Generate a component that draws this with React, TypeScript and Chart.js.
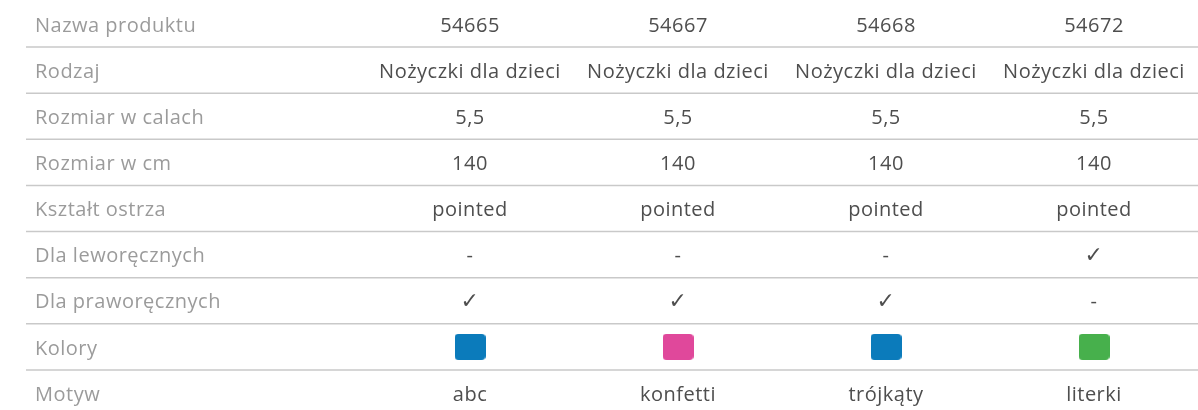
import React, { useEffect, useRef } from 'react';
import { Chart, registerables } from 'chart.js';

Chart.register(...registerables);

// ---- data ----
const rowLabels = [
  'Nazwa produktu',
  'Rodzaj',
  'Rozmiar w calach',
  'Rozmiar w cm',
  'Kształt ostrza',
  'Dla leworęcznych',
  'Dla praworęcznych',
  'Kolory',
  'Motyw',
];
const products = ['54665', '54667', '54668', '54672'];
const rodzaj = ['Nożyczki dla dzieci', 'Nożyczki dla dzieci', 'Nożyczki dla dzieci', 'Nożyczki dla dzieci'];
const rozmiarCale = ['5,5', '5,5', '5,5', '5,5'];
const rozmiarCm = ['140', '140', '140', '140'];
const ksztalt = ['pointed', 'pointed', 'pointed', 'pointed'];
const leworeczni = ['-', '-', '-', '✓'];
const praworeczni = ['✓', '✓', '✓', '-'];
const kolory = ['#0b7bbb', '#e0489b', '#0b7bbb', '#47b04c'];
const motyw = ['abc', 'konfetti', 'trójkąty', 'literki'];

const textRows: (string[] | null)[] = [
  products, rodzaj, rozmiarCale, rozmiarCm, ksztalt, leworeczni, praworeczni, null, motyw,
];

const FONT = '"Open Sans", "DejaVu Sans", sans-serif';

function swatch(color: string): HTMLCanvasElement {
  const c = document.createElement('canvas');
  c.width = 31;
  c.height = 26;
  const g = c.getContext('2d')!;
  g.fillStyle = color;
  g.beginPath();
  (g as any).roundRect(0, 0, 31, 26, 4);
  g.fill();
  return c;
}

const spacingPlugin = {
  id: 'letterSpacing',
  beforeDraw(chart: any) {
    (chart.ctx as any).letterSpacing = '0.5px';
  },
};

const tablePlugin = {
  id: 'tableCells',
  beforeDatasetsDraw(chart: any) {
    const { ctx, scales, chartArea } = chart;
    const x = scales.x;
    const y = scales.y;
    ctx.save();
    ctx.strokeStyle = '#c9c9c9';
    ctx.lineWidth = 1.5;
    for (let i = 0; i < rowLabels.length - 1; i++) {
      const yy = (y.getPixelForValue(i) + y.getPixelForValue(i + 1)) / 2;
      ctx.beginPath();
      ctx.moveTo(26, yy);
      ctx.lineTo(chartArea.right, yy);
      ctx.stroke();
    }
    ctx.fillStyle = '#4e4e4e';
    ctx.textAlign = 'center';
    ctx.textBaseline = 'middle';
    textRows.forEach((row, r) => {
      if (!row) return;
      row.forEach((t, c) => {
        ctx.font = t === '✓' ? '22px "DejaVu Sans", sans-serif' : `20px ${FONT}`;
        ctx.fillText(t, x.getPixelForValue(c), y.getPixelForValue(r) + 2);
      });
    });
    ctx.restore();
  },
};

export default function App() {
  const ref = useRef<HTMLCanvasElement>(null);
  useEffect(() => {
    if (!ref.current) return;
    const chart = new Chart(ref.current, {
      type: 'scatter',
      data: {
        datasets: [
          {
            data: products.map((p) => ({ x: p, y: 'Kolory' })) as any,
            pointStyle: kolory.map(swatch) as any,
            pointRadius: 14,
            showLine: false,
          },
        ],
      },
      options: {
        responsive: false,
        animation: false,
        layout: { autoPadding: false, padding: { left: 35, top: 1, right: 0, bottom: 0 } },
        plugins: { legend: { display: false }, tooltip: { enabled: false } },
        scales: {
          x: {
            type: 'category',
            labels: products,
            offset: true,
            display: false,
          },
          y: {
            type: 'category',
            labels: rowLabels,
            offset: true,
            grid: { display: false },
            border: { display: false },
            afterFit: (s: any) => {
              s.width = 331;
              s.paddingTop = 0;
              s.paddingBottom = 0;
            },
            ticks: {
              crossAlign: 'far',
              padding: 0,
              labelOffset: 2,
              autoSkip: false,
              color: '#9b9b9b',
              font: { family: FONT, size: 20 },
            },
          },
        },
      },
      plugins: [spacingPlugin, tablePlugin],
    });
    return () => chart.destroy();
  }, []);
  return (
    <div style={{ position: 'fixed', left: 0, top: 0, width: 1198, height: 416, background: '#fff' }}>
      <canvas ref={ref} width={1198} height={416} />
    </div>
  );
}
